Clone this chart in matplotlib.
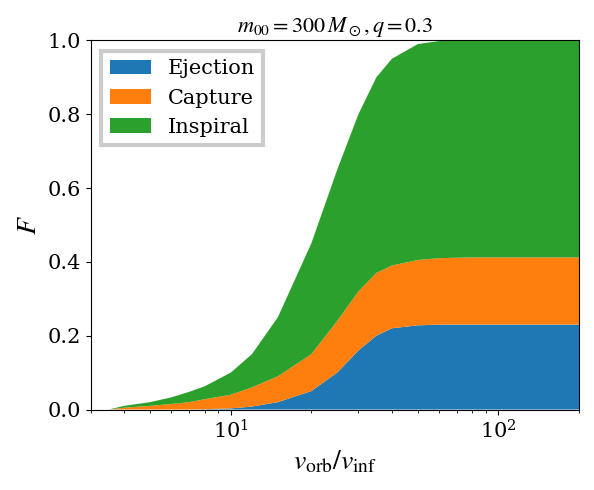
import matplotlib.pyplot as plt
import numpy as np

plt.rcParams['font.family'] = 'DejaVu Serif'
plt.rcParams['mathtext.fontset'] = 'stix'

# velocity ratio and cumulative fractions
v_ratio = [3.5, 4, 5, 6, 7, 8, 10, 12, 15, 20, 25, 30, 35, 40, 50, 60, 80, 100, 150, 200]
ejection = [0, 0, 0, 0, 0, 0.001, 0.003, 0.008, 0.02, 0.05, 0.1, 0.16, 0.2, 0.22, 0.228, 0.23, 0.23, 0.23, 0.23, 0.23]
eject_capture = [0, 0.005, 0.01, 0.015, 0.02, 0.028, 0.04, 0.06, 0.09, 0.15, 0.24, 0.32, 0.37, 0.39, 0.405, 0.41, 0.412, 0.412, 0.412, 0.412]
total = [0, 0.01, 0.02, 0.033, 0.048, 0.063, 0.1, 0.15, 0.25, 0.45, 0.65, 0.8, 0.9, 0.95, 0.99, 0.998, 1, 1, 1, 1]

ej = np.array(ejection)
cap = np.array(eject_capture) - ej
insp = np.array(total) - np.array(eject_capture)

fig, ax = plt.subplots(figsize=(5.94, 4.9), dpi=100)
ax.stackplot(v_ratio, ej, cap, insp, labels=['Ejection', 'Capture', 'Inspiral'],
             colors=['#1f77b4', '#ff7f0e', '#2ca02c'])
ax.set_xscale('log')
ax.set_xlim(3, 200)
ax.set_ylim(0, 1)
ax.set_xlabel(r'$v_{\rm orb}/v_{\rm inf}$', fontsize=20)
ax.set_ylabel(r'$F$', fontsize=20)
ax.set_title(r'$m_{00} = 300\,M_\odot, q = 0.3$', fontsize=16)
ax.tick_params(labelsize=15)
leg = ax.legend(loc='upper left', fontsize=15, fancybox=False, framealpha=1)
leg.get_frame().set_edgecolor('0.8')
leg.get_frame().set_linewidth(3)
plt.tight_layout()
plt.savefig('out.png')
